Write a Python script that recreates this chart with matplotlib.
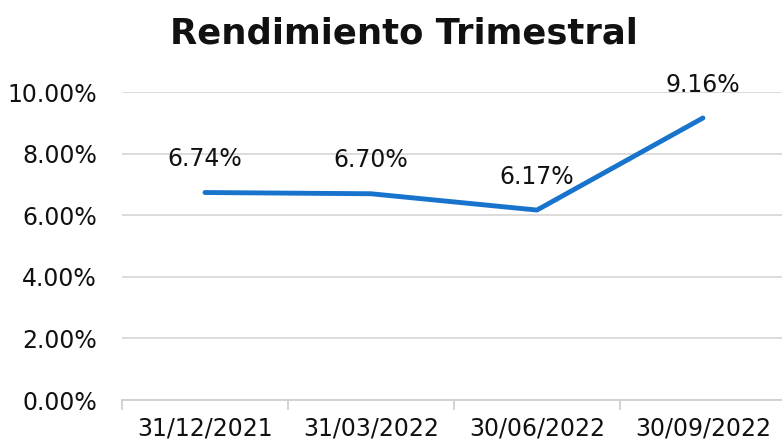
import matplotlib
matplotlib.use("Agg")
import matplotlib.pyplot as plt

fechas = ["31/12/2021", "31/03/2022", "30/06/2022", "30/09/2022"]
rendimiento = [6.74, 6.70, 6.17, 9.16]
yticks = [0, 2, 4, 6, 8, 10]

fig = plt.figure(figsize=(7.82, 4.43), dpi=100)
ax = fig.add_axes([0.156, 0.097, 0.849, 0.695])

xs = list(range(len(fechas)))
ax.plot(xs, rendimiento, color="#1873cc", lw=3.5, solid_capstyle="round", zorder=3)
for x, v in zip(xs, rendimiento):
    ax.annotate(f"{v:.2f}%", (x, v), textcoords="offset points", xytext=(0, 24),
                ha="center", va="center", fontsize=17, color="#111111", annotation_clip=False)

ax.set_xlim(-0.5, len(fechas) - 0.5)
ax.set_ylim(0, 10)
ax.set_yticks(yticks)
ax.set_yticklabels([f"{t:.2f}%" for t in yticks])
ax.set_xticks(xs)
ax.set_xticklabels(fechas)
ax.set_xticks([x - 0.5 for x in range(len(fechas) + 1)], minor=True)

ax.grid(axis="y", color="#d9d9d9", lw=1.3)
ax.set_axisbelow(True)
for s in ["top", "right", "left"]:
    ax.spines[s].set_visible(False)
ax.spines["bottom"].set_color("#d0d0d0")
ax.spines["bottom"].set_linewidth(1.3)
ax.tick_params(axis="y", length=0, pad=18, labelsize=17, labelcolor="#111111")
ax.tick_params(axis="x", which="major", length=0, pad=12, labelsize=17, labelcolor="#111111")
ax.tick_params(axis="x", which="minor", length=7, width=1.3, color="#d0d0d0")

fig.text(0.517, 0.925, "Rendimiento Trimestral", ha="center", va="center",
         fontsize=25.5, fontweight="bold", color="#111111")

fig.savefig("out.png", dpi=100)
